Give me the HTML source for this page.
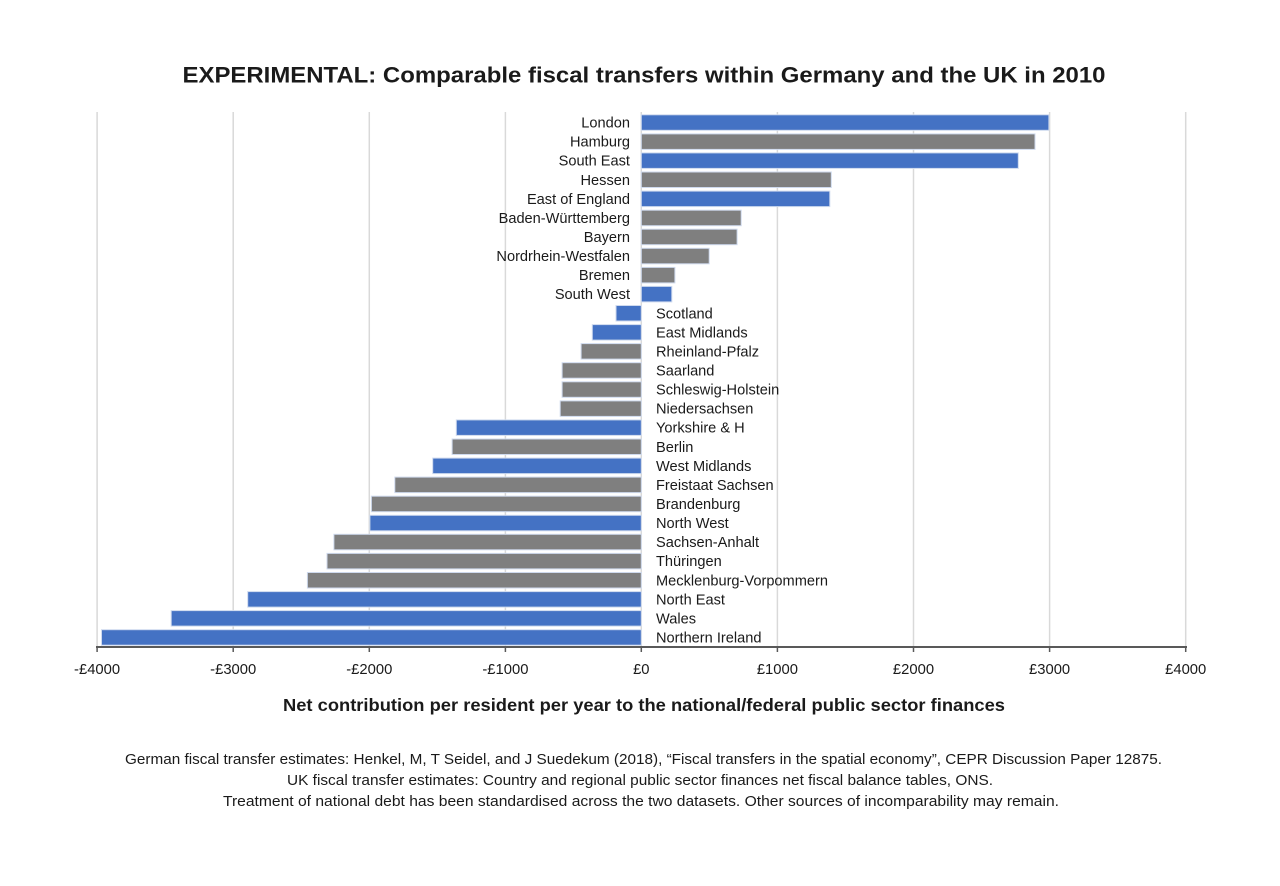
<!DOCTYPE html>
<html>
<head>
<meta charset="utf-8">
<style>
html,body{margin:0;padding:0;background:#fff;}
svg{display:block;}
text{font-family:"Liberation Sans",Arial,sans-serif;fill:#1a1a1a;}
.lab{font-size:14.6px;}
.tick{font-size:14.8px;}
.foot{font-size:14.8px;}
</style>
</head>
<body>
<svg width="1280" height="886" viewBox="0 0 1280 886" xmlns="http://www.w3.org/2000/svg">
<rect x="0" y="0" width="1280" height="886" fill="#fff"/>
<text x="644" y="82.5" text-anchor="middle" font-size="22" font-weight="bold" fill="#000" textLength="923" lengthAdjust="spacingAndGlyphs">EXPERIMENTAL: Comparable fiscal transfers within Germany and the UK in 2010</text>

<!-- gridlines -->
<g stroke="#d9d9d9" stroke-width="1.5">
<line x1="97.1" y1="112" x2="97.1" y2="647"/>
<line x1="233.2" y1="112" x2="233.2" y2="647"/>
<line x1="369.3" y1="112" x2="369.3" y2="647"/>
<line x1="505.4" y1="112" x2="505.4" y2="647"/>
<line x1="641.3" y1="112" x2="641.3" y2="647"/>
<line x1="777.4" y1="112" x2="777.4" y2="647"/>
<line x1="913.5" y1="112" x2="913.5" y2="647"/>
<line x1="1049.6" y1="112" x2="1049.6" y2="647"/>
<line x1="1185.7" y1="112" x2="1185.7" y2="647"/>
</g>

<!-- bars -->
<g stroke="#cfdaee" stroke-width="1">
<rect x="641.3" y="114.8" width="407.6" height="15.5" fill="#4472c4"/>
<rect x="641.3" y="133.9" width="393.7" height="15.5" fill="#7f7f7f"/>
<rect x="641.3" y="152.9" width="377.0" height="15.5" fill="#4472c4"/>
<rect x="641.3" y="172.0" width="190.0" height="15.5" fill="#7f7f7f"/>
<rect x="641.3" y="191.1" width="188.5" height="15.5" fill="#4472c4"/>
<rect x="641.3" y="210.2" width="99.9" height="15.5" fill="#7f7f7f"/>
<rect x="641.3" y="229.2" width="95.8" height="15.5" fill="#7f7f7f"/>
<rect x="641.3" y="248.3" width="67.9" height="15.5" fill="#7f7f7f"/>
<rect x="641.3" y="267.4" width="33.6" height="15.5" fill="#7f7f7f"/>
<rect x="641.3" y="286.4" width="30.5" height="15.5" fill="#4472c4"/>
<rect x="616.0" y="305.5" width="25.3" height="15.5" fill="#4472c4"/>
<rect x="592.3" y="324.6" width="49.0" height="15.5" fill="#4472c4"/>
<rect x="581.1" y="343.6" width="60.2" height="15.5" fill="#7f7f7f"/>
<rect x="562.1" y="362.7" width="79.2" height="15.5" fill="#7f7f7f"/>
<rect x="562.1" y="381.8" width="79.2" height="15.5" fill="#7f7f7f"/>
<rect x="560.2" y="400.9" width="81.1" height="15.5" fill="#7f7f7f"/>
<rect x="456.3" y="419.9" width="185.0" height="15.5" fill="#4472c4"/>
<rect x="452.1" y="439.0" width="189.2" height="15.5" fill="#7f7f7f"/>
<rect x="432.7" y="458.1" width="208.6" height="15.5" fill="#4472c4"/>
<rect x="394.8" y="477.1" width="246.5" height="15.5" fill="#7f7f7f"/>
<rect x="371.4" y="496.2" width="269.9" height="15.5" fill="#7f7f7f"/>
<rect x="369.9" y="515.3" width="271.4" height="15.5" fill="#4472c4"/>
<rect x="333.9" y="534.3" width="307.4" height="15.5" fill="#7f7f7f"/>
<rect x="327.0" y="553.4" width="314.3" height="15.5" fill="#7f7f7f"/>
<rect x="307.4" y="572.5" width="333.9" height="15.5" fill="#7f7f7f"/>
<rect x="247.7" y="591.6" width="393.6" height="15.5" fill="#4472c4"/>
<rect x="171.2" y="610.6" width="470.1" height="15.5" fill="#4472c4"/>
<rect x="101.5" y="629.7" width="539.8" height="15.5" fill="#4472c4"/>
</g>

<!-- category labels -->
<g class="lab">
<text x="630" y="127.6" text-anchor="end">London</text>
<text x="630" y="146.7" text-anchor="end">Hamburg</text>
<text x="630" y="165.7" text-anchor="end">South East</text>
<text x="630" y="184.8" text-anchor="end">Hessen</text>
<text x="630" y="203.9" text-anchor="end">East of England</text>
<text x="630" y="223.0" text-anchor="end">Baden-Württemberg</text>
<text x="630" y="242.0" text-anchor="end">Bayern</text>
<text x="630" y="261.1" text-anchor="end">Nordrhein-Westfalen</text>
<text x="630" y="280.2" text-anchor="end">Bremen</text>
<text x="630" y="299.2" text-anchor="end">South West</text>
<text x="656" y="318.3">Scotland</text>
<text x="656" y="337.4">East Midlands</text>
<text x="656" y="356.4">Rheinland-Pfalz</text>
<text x="656" y="375.5">Saarland</text>
<text x="656" y="394.6">Schleswig-Holstein</text>
<text x="656" y="413.7">Niedersachsen</text>
<text x="656" y="432.7">Yorkshire &amp; H</text>
<text x="656" y="451.8">Berlin</text>
<text x="656" y="470.9">West Midlands</text>
<text x="656" y="489.9">Freistaat Sachsen</text>
<text x="656" y="509.0">Brandenburg</text>
<text x="656" y="528.1">North West</text>
<text x="656" y="547.1">Sachsen-Anhalt</text>
<text x="656" y="566.2">Thüringen</text>
<text x="656" y="585.3">Mecklenburg-Vorpommern</text>
<text x="656" y="604.4">North East</text>
<text x="656" y="623.4">Wales</text>
<text x="656" y="642.5">Northern Ireland</text>
</g>

<!-- axis -->
<line x1="96" y1="647" x2="1187" y2="647" stroke="#595959" stroke-width="2"/>
<g stroke="#595959" stroke-width="1.5">
<line x1="97.1" y1="647" x2="97.1" y2="652"/>
<line x1="233.2" y1="647" x2="233.2" y2="652"/>
<line x1="369.3" y1="647" x2="369.3" y2="652"/>
<line x1="505.4" y1="647" x2="505.4" y2="652"/>
<line x1="641.3" y1="647" x2="641.3" y2="652"/>
<line x1="777.4" y1="647" x2="777.4" y2="652"/>
<line x1="913.5" y1="647" x2="913.5" y2="652"/>
<line x1="1049.6" y1="647" x2="1049.6" y2="652"/>
<line x1="1185.7" y1="647" x2="1185.7" y2="652"/>
</g>
<g class="tick" text-anchor="middle">
<text x="97.1" y="674">-£4000</text>
<text x="233.2" y="674">-£3000</text>
<text x="369.3" y="674">-£2000</text>
<text x="505.4" y="674">-£1000</text>
<text x="641.3" y="674">£0</text>
<text x="777.4" y="674">£1000</text>
<text x="913.5" y="674">£2000</text>
<text x="1049.6" y="674">£3000</text>
<text x="1185.7" y="674">£4000</text>
</g>

<text x="644" y="711" text-anchor="middle" font-size="17.5" font-weight="bold" fill="#000" textLength="722" lengthAdjust="spacingAndGlyphs">Net contribution per resident per year to the national/federal public sector finances</text>

<g class="foot" text-anchor="middle">
<text x="643.5" y="764" textLength="1037" lengthAdjust="spacingAndGlyphs">German fiscal transfer estimates: Henkel, M, T Seidel, and J Suedekum (2018), “Fiscal transfers in the spatial economy”, CEPR Discussion Paper  12875.</text>
<text x="640" y="785" textLength="706" lengthAdjust="spacingAndGlyphs">UK fiscal transfer estimates: Country and regional public sector finances net fiscal balance tables, ONS.</text>
<text x="641" y="806" textLength="836" lengthAdjust="spacingAndGlyphs">Treatment of national debt has been standardised across the two datasets. Other sources of incomparability may remain.</text>
</g>
</svg>
</body>
</html>
